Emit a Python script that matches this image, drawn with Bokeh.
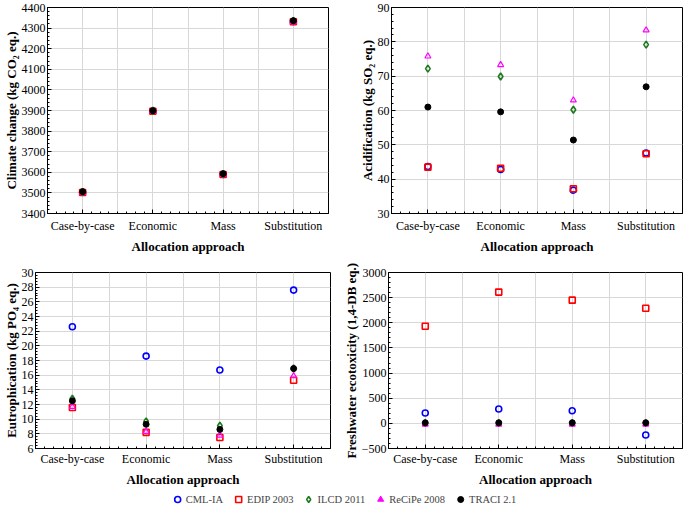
import numpy as np
from bokeh.plotting import figure
from bokeh.models import Range1d, FixedTicker, Legend, LegendItem, ColumnDataSource
from bokeh.layouts import column, row
from bokeh.embed import file_html
from bokeh.resources import INLINE

categories = ["Case-by-case", "Economic", "Mass", "Substitution"]
methods = ["CML-IA", "EDIP 2003", "ILCD 2011", "ReCiPe 2008", "TRACI 2.1"]

climate_cml = [3503, 3897, 3590, 4332]
climate_edip = [3502, 3896, 3589, 4331]
climate_ilcd = [3505, 3899, 3592, 4335]
climate_recipe = [3501, 3895, 3588, 4329]
climate_traci = [3506, 3899, 3593, 4336]

acid_cml = [43.7, 42.8, 36.8, 47.6]
acid_edip = [43.5, 43.2, 37.2, 47.4]
acid_ilcd = [72.2, 69.9, 60.2, 79.2]
acid_recipe = [75.8, 73.3, 63.0, 83.4]
acid_traci = [61.0, 59.6, 51.4, 66.9]

eutro_cml = [22.6, 18.6, 16.7, 27.6]
eutro_edip = [11.6, 8.2, 7.5, 15.3]
eutro_ilcd = [12.8, 9.7, 9.1, 16.9]
eutro_recipe = [11.7, 8.3, 7.8, 15.9]
eutro_traci = [12.5, 9.3, 8.6, 16.9]

fresh_cml = [205, 285, 250, -233]
fresh_edip = [1930, 2610, 2450, 2290]
fresh_ilcd = [5, 5, 5, 5]
fresh_recipe = [-20, -20, -20, -20]
fresh_traci = [12, 12, 12, 12]

FONT = "Liberation Serif"

styles = [
    dict(marker="circle", line_color="#0000ff", fill_color=None, size=6, line_width=1.6),
    dict(marker="square", line_color="#ff0000", fill_color=None, size=6, line_width=1.6),
    dict(marker="diamond", line_color="#1e7a1e", fill_color=None, size=7, line_width=1.6),
    dict(marker="triangle", line_color="#ff00ff", fill_color=None, size=6, line_width=1.2),
    dict(marker="circle", line_color="black", fill_color="black", size=6, line_width=1),
]

xpos = [1, 2, 3, 4]


def style_axis(ax, label_standoff, title_standoff):
    ax.major_tick_in = 4
    ax.major_tick_out = 0
    ax.minor_tick_in = 2
    ax.minor_tick_out = 0
    ax.axis_line_color = "black"
    ax.major_tick_line_color = "black"
    ax.minor_tick_line_color = "black"
    ax.major_label_text_font = FONT
    ax.major_label_text_color = "black"
    ax.major_label_text_font_size = "12px"
    ax.major_label_standoff = label_standoff
    ax.axis_label_text_font = FONT
    ax.axis_label_text_font_style = "bold"
    ax.axis_label_text_font_size = "13px"
    ax.axis_label_text_color = "black"
    ax.axis_label_standoff = title_standoff


def make_panel(ylabel, series, y0, y1, step, w, h, mbl, mbr, mbt, mbb, xls, xts):
    p = figure(width=w, height=h, toolbar_location=None, output_backend="svg",
               x_range=Range1d(0.5, 4.5), y_range=Range1d(y0, y1),
               min_border_left=mbl, min_border_right=mbr,
               min_border_top=mbt, min_border_bottom=mbb)
    p.outline_line_color = "black"
    p.outline_line_width = 1
    xt = FixedTicker(ticks=xpos, minor_ticks=list(np.arange(0.5, 4.51, 0.125)))
    yt_major = list(np.arange(y0, y1 + step * 0.5, step))
    yt_minor = list(np.arange(y0, y1 + step * 0.01, step / 5))
    yt = FixedTicker(ticks=yt_major, minor_ticks=yt_minor)
    p.xaxis.ticker = xt
    p.yaxis.ticker = yt
    p.xaxis.major_label_overrides = {i + 1: c for i, c in enumerate(categories)}
    p.xaxis.axis_label = "Allocation approach"
    p.yaxis.axis_label = ylabel
    style_axis(p.xaxis[0], xls, xts)
    style_axis(p.yaxis[0], 2, 0)
    p.xgrid.ticker = FixedTicker(ticks=[1, 1.5, 2, 2.5, 3, 3.5, 4])
    p.grid.grid_line_color = "#d8d8d8"
    p.grid.grid_line_width = 1
    for vals, st in zip(series, styles):
        src = ColumnDataSource(dict(x=xpos, y=vals))
        p.scatter("x", "y", source=src, **st)
    return p


p1 = make_panel("Climate change (kg CO\u2082 eq.)",
                [climate_cml, climate_edip, climate_ilcd, climate_recipe, climate_traci],
                3400, 4400, 100, 340, 258, 46, 12, 5, 44, 5, 3)
p2 = make_panel("Acidification (kg SO\u2082 eq.)",
                [acid_cml, acid_edip, acid_ilcd, acid_recipe, acid_traci],
                30, 90, 10, 345, 258, 51, 3, 7, 45, 5, 3)
p3 = make_panel("Eutrophication (kg PO\u2084 eq.)",
                [eutro_cml, eutro_edip, eutro_ilcd, eutro_recipe, eutro_traci],
                6, 30, 2, 340, 233, 34, 10, 11, 40, 3, 3)
p4 = make_panel("Freshwater ecotoxicity (1,4-DB eq.)",
                [fresh_cml, fresh_edip, fresh_ilcd, fresh_recipe, fresh_traci],
                -500, 3000, 500, 345, 233, 47, 3, 14, 43, 3, 3)

leg = figure(width=685, height=15, toolbar_location=None, output_backend="svg",
             x_range=Range1d(0, 1), y_range=Range1d(0, 1), min_border=0)
leg.axis.visible = False
leg.grid.visible = False
leg.outline_line_color = None
leg_styles = [dict(s) for s in styles]
leg_styles[3] = dict(marker="triangle", line_color="#ff00ff", fill_color="#ff00ff", size=6, line_width=1)
items = []
for m, st in zip(methods, leg_styles):
    r = leg.scatter(x=[-10], y=[-10], **st)
    items.append(LegendItem(label=m, renderers=[r]))
legend = Legend(items=items, orientation="horizontal", location="center",
                border_line_color=None, background_fill_alpha=0,
                label_text_font=FONT, label_text_font_size="10.5px",
                glyph_width=16, glyph_height=15, spacing=7, padding=0, margin=0,
                label_standoff=1)
leg.add_layout(legend, "center")

layout = column(row(p1, p2), row(p3, p4), leg)
open("out.html", "w").write(file_html(layout, INLINE))
